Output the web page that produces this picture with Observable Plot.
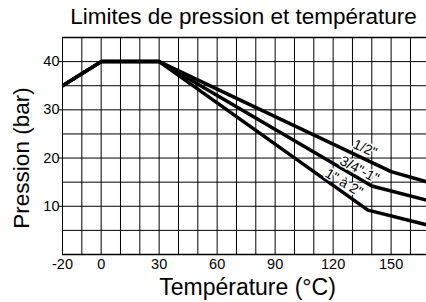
<!DOCTYPE html>
<html>
<head>
<meta charset="utf-8">
<script src="https://cdn.jsdelivr.net/npm/d3@7"></script>
<script src="https://cdn.jsdelivr.net/npm/@observablehq/plot@0.6"></script>
<style>
  html, body { margin: 0; padding: 0; background: #fff; }
  svg { display: block; }
</style>
</head>
<body>
<div id="chart"></div>
<script>
const titleText = "Limites de pression et température";
const xLabel = "Température (°C)";
const yLabel = "Pression (bar)";

const seriesNames = ["1/2\"", "3/4\"-1\"", "1\" à 2\""];
const temps12 = [-20, 0, 30, 150, 170];
const press12 = [35, 40, 40, 17.2, 14.9];
const temps34 = [-20, 0, 30, 140, 170];
const press34 = [35, 40, 40, 14.2, 11.1];
const temps1a2 = [-20, 0, 30, 138, 170];
const press1a2 = [35, 40, 40, 9.2, 6.0];

const labelT = [136.5, 133.6, 125.6];
const labelP = [22.0, 17.6, 14.9];

const xTicks = [-20, 0, 30, 60, 90, 120, 150];
const yTicks = [10, 20, 30, 40];
const xGrid = [-20, -10, 0, 10, 20, 30, 40, 50, 60, 70, 80, 90, 100, 110, 120, 130, 140, 150, 160];
const yGrid = [0, 5, 10, 15, 20, 25, 30, 35, 40, 45];

const series = [
  {name: seriesNames[0], t: temps12, p: press12},
  {name: seriesNames[1], t: temps34, p: press34},
  {name: seriesNames[2], t: temps1a2, p: press1a2}
];
const lineData = series.flatMap(s => s.t.map((t, i) => ({series: s.name, t, p: s.p[i]})));
const labelData = seriesNames.map((n, i) => ({name: n, t: labelT[i], p: labelP[i]}));
const labelRot = [24, 28, 31];

const font = "Liberation Sans, Arial, Helvetica, sans-serif";

const chart = Plot.plot({
  width: 426,
  height: 302,
  marginLeft: 62,
  marginRight: 0,
  marginTop: 37,
  marginBottom: 48,
  style: {fontFamily: font, fontSize: "14.5px", color: "#000", background: "#fff"},
  x: {domain: [-20, 168.3], label: null},
  y: {domain: [0, 45], label: null},
  marks: [
    Plot.ruleX(xGrid, {stroke: "#000", strokeWidth: 1, y1: 0, y2: 45}),
    Plot.ruleY(yGrid, {stroke: "#000", strokeWidth: d => (d === 0 || d === 45) ? 1.5 : 1}),
    Plot.line(lineData, {x: "t", y: "p", z: "series", stroke: "#000", strokeWidth: 3.5, clip: true, strokeLinejoin: "miter"}),
    ...labelData.map((d, i) => Plot.text([d], {
      x: "t", y: "p", text: "name", rotate: labelRot[i],
      fontSize: 14, fill: "#000", stroke: "#fff", strokeWidth: 3
    })),
    Plot.axisX({ticks: xTicks, tickSize: 0, tickPadding: 4, fontSize: 14.5, label: null, tickFormat: d => String(d)}),
    Plot.axisY({ticks: yTicks, tickSize: 3, tickPadding: 0, fontSize: 14.5, label: null, tickFormat: d => String(d)}),
    Plot.text([titleText], {frameAnchor: "top", textAnchor: "middle", lineAnchor: "middle", dx: -1, dy: -21.2, text: d => d, fontSize: 22.5, fill: "#000"}),
    Plot.text([xLabel], {frameAnchor: "bottom", textAnchor: "middle", lineAnchor: "middle", dx: 3, dy: 33.1, text: d => d, fontSize: 23, fill: "#000"}),
    Plot.text([yLabel], {frameAnchor: "left", textAnchor: "middle", lineAnchor: "middle", dx: -41.2, dy: 12, rotate: -90, text: d => d, fontSize: 22.5, fill: "#000"})
  ]
});
document.getElementById("chart").appendChild(chart);
</script>
</body>
</html>
